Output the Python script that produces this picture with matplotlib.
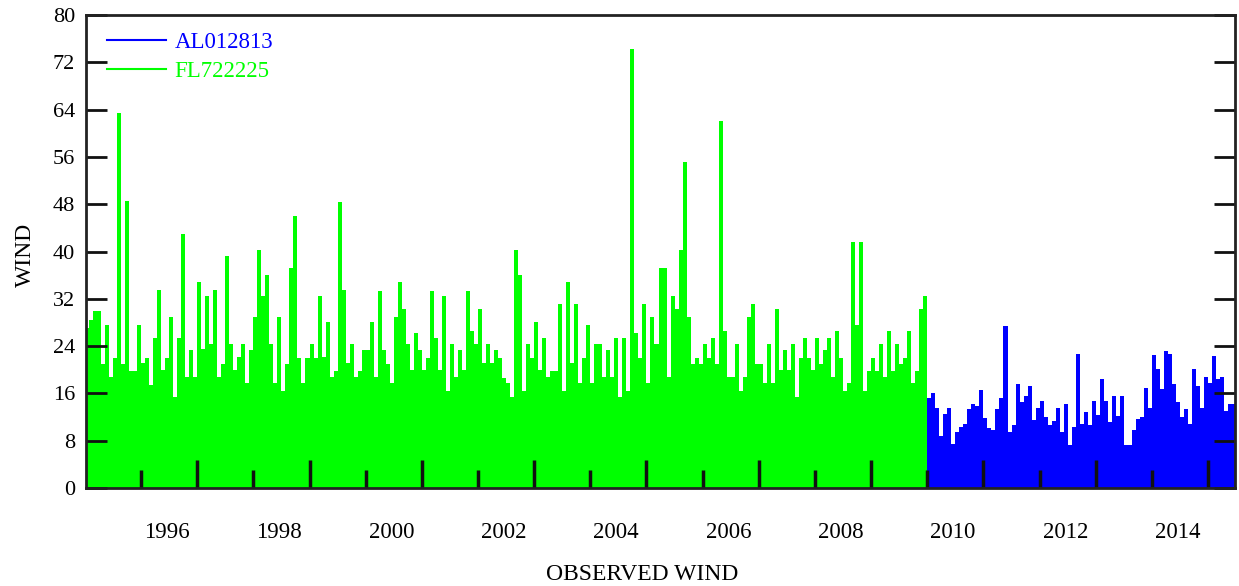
import numpy as np
import matplotlib
matplotlib.use("Agg")
import matplotlib.pyplot as plt
from matplotlib.lines import Line2D

# one value every 1/14 year
START_YEAR = 1995.0
STEP = 1 / 14

fl722225 = [
    # 1995.0 - 1998.4
    27, 28.5, 30, 30, 21, 27.5, 18.7, 22, 63.5, 21, 48.5, 19.8, 19.8, 27.5, 21.2, 22,
    17.5, 25.4, 33.5, 20, 22, 28.9, 15.4, 25.4, 43, 18.7, 23.3, 18.7, 34.8, 23.5, 32.4, 24.4,
    33.5, 18.7, 21, 39.3, 24.4, 19.9, 22.2, 24.4, 17.7, 23.3, 28.9, 40.2, 32.4, 36, 24.4, 17.7,
    # 1998.4 - 2001.9
    28.9, 16.4, 21, 37.2, 46, 22, 17.7, 22, 24.4, 22, 32.4, 22.2, 28, 18.7, 19.8, 48.3,
    33.5, 21.2, 24.4, 18.7, 19.8, 23.3, 23.3, 28, 18.7, 33.4, 23.3, 21, 17.7, 28.9, 34.8, 30.2,
    24.4, 19.9, 26.2, 23.3, 19.9, 22, 33.4, 25.4, 19.9, 32.4, 16.4, 24.4, 18.7, 23.3, 19.9, 33.4,
    # 2001.9 - 2005.3
    26.5, 24.4, 30.2, 21.2, 24.4, 21.2, 23.3, 22, 18.6, 17.7, 15.4, 40.2, 36, 16.4, 24.4, 22,
    28, 19.9, 25.4, 18.7, 19.8, 19.8, 31.1, 16.4, 34.8, 21.2, 31.1, 17.7, 22, 27.6, 17.7, 24.4,
    24.4, 18.7, 23.3, 18.7, 25.4, 15.4, 25.4, 16.4, 74.3, 26.2, 22, 31.1, 17.7, 28.9, 24.4, 37.2,
    # 2005.3 - 2008.7
    37.2, 18.7, 32.4, 30.2, 40.2, 55.2, 28.9, 21, 22, 21, 24.4, 22, 25.4, 21, 62, 26.5,
    18.7, 18.7, 24.4, 16.4, 18.7, 28.9, 31.1, 21, 21, 17.7, 24.4, 17.7, 30.2, 19.9, 23.3, 19.9,
    24.4, 15.4, 22, 25.4, 22, 19.9, 25.4, 21, 23.3, 25.4, 18.7, 26.5, 22, 16.4, 17.7, 41.6,
    # 2008.7 - 2010.0
    27.6, 41.6, 16.4, 19.8, 22, 19.8, 24.4, 18.7, 26.5, 19.8, 24.4, 21, 22, 26.5, 17.7, 19.8,
    30.2, 32.4,
]

al012813 = [
    # 2010.0 - 2012.1
    15.3, 16.1, 13.5, 8.8, 12.6, 13.6, 7.5, 9.4, 10.4, 10.8, 13.3, 14.2, 13.9, 16.5, 11.9, 10.2,
    9.8, 13.3, 15.3, 27.4, 9.4, 10.6, 17.6, 14.6, 15.5, 17.3, 11.5, 13.6, 14.8,
    # 2012.1 - 2015.5
    12.0, 10.6, 11.4, 13.6, 9.4, 14.2, 7.3, 10.4, 22.7, 10.8, 12.9, 10.6, 14.8, 12.3, 18.5, 14.8,
    11.1, 15.5, 12.2, 15.5, 7.2, 7.2, 9.8, 11.6, 12.0, 16.9, 13.6, 22.5, 20.1, 16.7, 23.1, 22.7,
    17.6, 14.6, 12.0, 13.3, 10.8, 20.1, 17.3, 13.6, 18.8, 17.8, 22.4, 18.4, 18.8, 13.1, 14.2, 14.2,
]

series_names = ["AL012813", "FL722225"]
series_colors = ["#0000ff", "#00ff00"]

y_ticks = list(range(0, 81, 8))
label_years = list(range(1996, 2015, 2))
long_tick_years = list(range(1997, 2016, 2))

plt.rcParams["font.family"] = ["Liberation Serif", "DejaVu Serif"]

fig = plt.figure(figsize=(12.39, 5.86), dpi=100)
ax = fig.add_axes([0.0694, 0.1672, 0.9274, 0.8072])

green_edges = START_YEAR + np.arange(len(fl722225) + 1) * STEP
blue_start = green_edges[-1]
blue_edges = blue_start + np.arange(len(al012813) + 1) * STEP

ax.stairs(fl722225, green_edges, fill=True, color=series_colors[1], linewidth=0)
ax.stairs(al012813, blue_edges, fill=True, color=series_colors[0], linewidth=0)

ax.set_xlim(1995.02, 2015.48)
ax.set_ylim(0, 80)

ax.set_yticks(y_ticks)
ax.set_yticklabels([str(v) for v in y_ticks], fontsize=16)
ax.tick_params(axis="y", direction="in", length=15, width=2, color="#111111",
               right=True, pad=8)

ax.set_xticks(long_tick_years)
ax.set_xticklabels([])
ax.set_xticks(label_years, minor=True)
ax.tick_params(axis="x", which="major", direction="in", length=20, width=2.5, color="#111111")
ax.tick_params(axis="x", which="minor", direction="in", length=13, width=2.5, color="#111111")

for yr in label_years:
    ax.text(yr + 0.46, -0.093, str(yr), transform=ax.get_xaxis_transform(),
            ha="center", va="center", fontsize=16.5)

for s in ax.spines.values():
    s.set_linewidth(2)
    s.set_color("#222222")

handles = [Line2D([], [], color=c, linewidth=1.5) for c in series_colors]
leg = ax.legend(handles, series_names, loc="upper left", bbox_to_anchor=(0.018, 0.964),
                frameon=False, fontsize=16.5, handlelength=2.6, handletextpad=0.36,
                labelspacing=0.33, borderpad=0, borderaxespad=0)
for txt, c in zip(leg.get_texts(), series_colors):
    txt.set_color(c)

fig.text(25 / 1239, 1 - 255 / 586, "WIND", rotation=90, ha="center", va="center", fontsize=17)
fig.text(642 / 1239, 1 - 575 / 586, "OBSERVED WIND", ha="center", va="center", fontsize=17)

fig.savefig("out.png", dpi=100)
